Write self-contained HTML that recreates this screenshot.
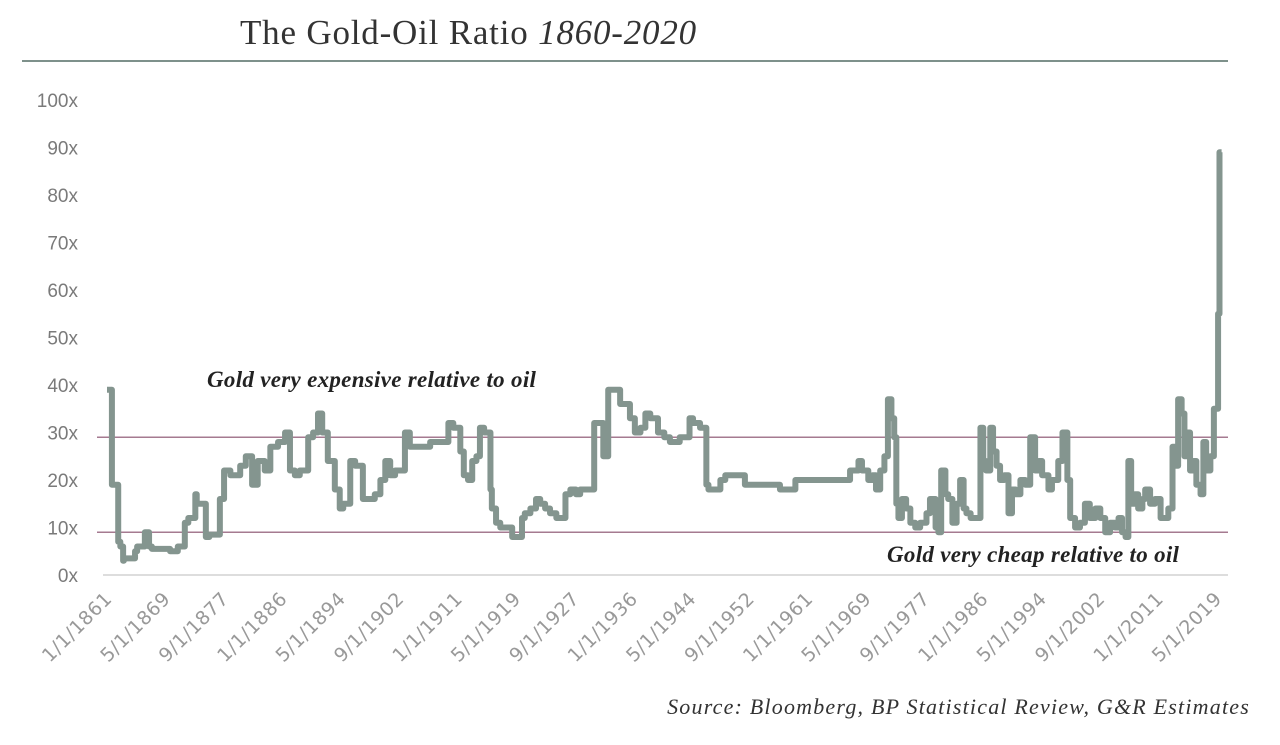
<!DOCTYPE html>
<html><head><meta charset="utf-8"><style>
html,body{margin:0;padding:0;background:#fff;}
svg{display:block;}
</style></head><body>
<svg id="chart" width="1280" height="745" viewBox="0 0 1280 745">
<text x="240" y="44" font-family="'Liberation Serif',serif" font-size="35" letter-spacing="0.8" fill="#333">The Gold-Oil Ratio <tspan font-style="italic">1860-2020</tspan></text>
<line x1="22" y1="61" x2="1228" y2="61" stroke="#7e918b" stroke-width="2"/>
<g id="yaxis"></g>
<g id="xaxis"></g>
<line x1="103" y1="575" x2="1228" y2="575" stroke="#ddd" stroke-width="2"/>
<g id="refs"></g>
<path id="series" fill="none" stroke="#84958f" stroke-width="6" stroke-linejoin="round"/>
<text x="207" y="387" font-family="'Liberation Serif',serif" font-style="italic" font-weight="bold" font-size="23" letter-spacing="0.3" fill="#222">Gold very expensive relative to oil</text>
<text x="887" y="562" font-family="'Liberation Serif',serif" font-style="italic" font-weight="bold" font-size="23" letter-spacing="0.3" fill="#222">Gold very cheap relative to oil</text>
<text x="1250" y="714" text-anchor="end" font-family="'Liberation Serif',serif" font-style="italic" font-size="22" letter-spacing="1.2" fill="#333">Source: Bloomberg, BP Statistical Review, G&amp;R Estimates</text>
</svg>
<script>
const years=[1861.0,1861.7,1862.6,1862.9,1863.3,1863.4,1865.0,1865.3,1866.4,1867.0,1867.4,1870.0,1871.1,1872.1,1872.6,1873.6,1873.8,1874.7,1875.1,1875.6,1877.1,1877.7,1878.6,1880.0,1880.8,1881.7,1882.5,1883.5,1884.3,1885.4,1886.4,1887.1,1887.8,1888.5,1889.7,1890.4,1891.1,1891.7,1892.5,1893.5,1894.2,1894.7,1895.7,1896.4,1897.5,1898.5,1899.2,1900.0,1900.7,1901.4,1902.1,1902.8,1903.5,1904.2,1905.4,1907.1,1908.5,1909.7,1910.4,1911.4,1911.9,1912.5,1913.1,1913.7,1914.2,1914.8,1915.7,1915.9,1916.5,1917.1,1917.8,1918.8,1919.4,1920.2,1920.6,1921.4,1922.2,1922.8,1923.5,1924.2,1925.1,1925.6,1926.4,1927.1,1927.9,1928.5,1929.6,1930.5,1930.9,1931.8,1932.1,1932.5,1933.1,1934.2,1934.6,1935.6,1936.3,1937.1,1937.8,1938.5,1939.6,1940.5,1941.3,1942.7,1944.1,1944.6,1945.6,1946.5,1946.8,1948.5,1949.2,1950.6,1952.0,1952.8,1955.6,1957.0,1957.8,1959.2,1959.9,1961.3,1962.7,1967.0,1968.2,1968.7,1969.6,1970.2,1970.7,1971.3,1971.9,1972.4,1972.9,1973.3,1973.6,1973.9,1974.4,1975.0,1975.6,1976.3,1977.0,1977.9,1978.4,1979.2,1979.6,1980.0,1980.6,1981.0,1981.6,1982.2,1982.7,1983.2,1983.6,1984.2,1984.9,1985.6,1986.0,1986.4,1987.0,1987.4,1987.9,1988.4,1989.0,1989.6,1990.1,1990.6,1991.3,1992.0,1992.7,1993.4,1993.9,1994.4,1995.3,1995.8,1996.7,1997.3,1998.0,1998.4,1999.1,1999.8,2000.5,2001.2,2002.0,2002.7,2003.4,2004.1,2004.8,2005.3,2005.8,2006.3,2006.7,2007.1,2007.6,2008.1,2008.7,2009.1,2009.8,2010.5,2011.3,2011.8,2012.4,2013.0,2013.4,2013.8,2014.3,2014.7,2015.1,2015.5,2016.0,2016.4,2017.0,2017.4,2017.8,2018.4,2018.9,2019.5,2019.7,2020.0];
const ratios=[39,19,7,6,3,3.5,5,6,9,6,5.5,5,6,11,12,17,15,15,8,8.5,16,22,21,23,25,19,24,22,27,28,30,22,21,22,29,30,34,30,24,18,14,15,24,23,16,16,17,20,24,21,22,22,30,27,27,28,28,32,31,26,21,20,24,25,31,30,18,14,11,10,10,8,8,12,13,14,16,15,14,13,12,12,17,18,17,18,18,32,32,25,25,39,39,36,36,33,30,31,34,33,30,29,28,29,33,32,31,19,18,20,21,21,19,19,19,18,18,20,20,20,20,22,24,22,20,21,18,22,25,37,33,29,15,12,16,14,11,10,11,13,16,10,9,22,17,16,11,15,20,14,13,12,12,31,24,22,31,26,23,20,21,13,18,17,20,19,29,22,24,21,18,20,24,30,20,12,10,11,15,12,14,12,9,11,10,12,9,8,24,15,17,14,16,18,15,16,12,12,14,27,23,37,34,25,30,22,24,19,17,28,22,25,35,55,89];
const yTicks=[0,10,20,30,40,50,60,70,80,90,100];
const yTickLabels=["0x","10x","20x","30x","40x","50x","60x","70x","80x","90x","100x"];
const xTickLabels=["1/1/1861","5/1/1869","9/1/1877","1/1/1886","5/1/1894","9/1/1902","1/1/1911","5/1/1919","9/1/1927","1/1/1936","5/1/1944","9/1/1952","1/1/1961","5/1/1969","9/1/1977","1/1/1986","5/1/1994","9/1/2002","1/1/2011","5/1/2019"];
const refValues=[29,9];

const NS="http://www.w3.org/2000/svg";
const xs=y=>107+(y-1861)*7.01;
const ys=v=>575-v*4.75;
const yax=document.getElementById('yaxis');
yTicks.forEach((t,i)=>{
  const e=document.createElementNS(NS,'text');
  e.setAttribute('x',78);e.setAttribute('y',ys(t)+7);
  e.setAttribute('text-anchor','end');
  e.setAttribute('font-family',"'Liberation Sans',sans-serif");
  e.setAttribute('font-size','19');e.setAttribute('fill','#7a7a7a');
  e.textContent=yTickLabels[i];
  
  
  yax.appendChild(e);
});
const xax=document.getElementById('xaxis');
xTickLabels.forEach(s=>{
  const p=s.split('/');const yr=+p[2]+(+p[0]-1)/12;
  const x=xs(yr)+6,y=600;
  const e=document.createElementNS(NS,'text');
  e.setAttribute('x',x);e.setAttribute('y',y);
  e.setAttribute('text-anchor','end');
  e.setAttribute('transform','rotate(-45 '+x+' '+y+')');
  e.setAttribute('font-family',"'DejaVu Sans',sans-serif");
  e.setAttribute('font-size','19');e.setAttribute('fill','#999');
  e.setAttribute('letter-spacing','0.5');
  e.textContent=s;
  
  
  xax.appendChild(e);
});
const refs=document.getElementById('refs');
refValues.forEach(v=>{
  const l=document.createElementNS(NS,'line');
  l.setAttribute('x1',97);l.setAttribute('x2',1228);
  l.setAttribute('y1',ys(v));l.setAttribute('y2',ys(v));
  l.setAttribute('stroke','#a57a90');l.setAttribute('stroke-width','1.5');
  
  
  refs.appendChild(l);
});
let d='M'+xs(years[0])+','+ys(ratios[0]);
for(let i=1;i<years.length;i++){
  d+=' L'+xs(years[i])+','+ys(ratios[i-1])+' L'+xs(years[i])+','+ys(ratios[i]);
}
document.getElementById('series').setAttribute('d',d);
</script>
</body></html>
